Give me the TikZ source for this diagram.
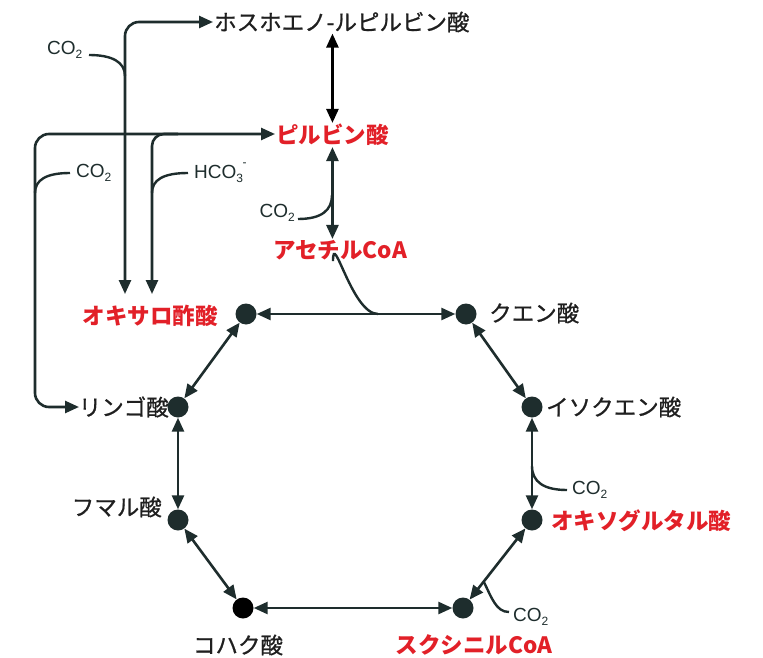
\documentclass[tikz,border=0pt]{standalone}
\usepackage{fontspec}
\setmainfont{Liberation Sans}
\newfontfamily\jp[FakeBold=0.8]{Noto Sans CJK JP}
\newfontfamily\jpb{Noto Sans CJK JP}
\usetikzlibrary{arrows.meta,calc}
\definecolor{ink}{RGB}{30,45,45}
\definecolor{hred}{RGB}{226,32,40}
\newcommand\cotwo{CO\raisebox{-0.45ex}{\fontsize{12}{12}\selectfont 2}}
\newcommand\hcothree{HCO\raisebox{-0.45ex}{\fontsize{12}{12}\selectfont 3}\kern-0.5pt\raisebox{1.1ex}{\fontsize{12}{12}\selectfont -}}
\begin{document}
\begin{tikzpicture}[x=1pt,y=-1pt,
  >={Triangle[length=14pt,width=12pt]},
  lab/.style={font={\jp\fontsize{22.5}{22.5}\selectfont}, text=black!88, inner sep=1pt},
  key/.style={font={\jpb\bfseries\fontsize{22.5}{22.5}\selectfont}, text=hred, inner sep=1pt},
  dot/.style={circle, fill=ink, minimum size=21pt, inner sep=0pt},
  con/.style={draw=ink, line width=2.6pt},
  side/.style={draw=ink, line width=2.4pt},
  small/.style={font={\fontsize{19}{19}\selectfont}, text=ink, inner sep=0pt}]
\useasboundingbox (0,0) rectangle (763,658);
\fill[white] (0,0) rectangle (763,658);

% labels
\node[lab, anchor=west] (pep) at (213,22) {ホスホエノ-ルピルビン酸};
\node[key, anchor=west] (pyr) at (275,135) {ピルビン酸};
\node[key] (acoa) at (340,250) {アセチルCoA};
\node[key, anchor=east] (oaa) at (219,316) {オキサロ酢酸};
\node[lab, anchor=west] (cit) at (488,313) {クエン酸};
\node[lab, anchor=west] (icit) at (545,407) {イソクエン酸};
\node[key, anchor=west] (akg) at (550,521) {オキソグルタル酸};
\node[key] (sca) at (474,645) {スクシニルCoA};
\node[lab] (suc) at (238,645) {コハク酸};
\node[lab, anchor=east] (fum) at (163,507) {フマル酸};
\node[lab, anchor=east] (mal) at (170,407) {リンゴ酸};

% dots
\node[dot] (dOAA) at (246,314) {};
\node[dot] (dCIT) at (466,314) {};
\node[dot] (dICIT) at (532,407) {};
\node[dot] (dAKG) at (532,520) {};
\node[dot] (dSCA) at (463,608) {};
\node[dot, fill=black] (dSUC) at (243,608) {};
\node[dot] (dFUM) at (178,520) {};
\node[dot] (dMAL) at (178,407) {};

% ring
\draw[con,<->] (dOAA) -- (dCIT);
\draw[con,<->] (dCIT) -- (dICIT);
\draw[con,<->] (dICIT) -- (dAKG);
\draw[con,<->] (dAKG) -- (dSCA);
\draw[con,<->] (dSCA) -- (dSUC);
\draw[con,<->] (dSUC) -- (dFUM);
\draw[con,<->] (dFUM) -- (dMAL);
\draw[con,<->] (dMAL) -- (dOAA);

% pyruvate column
\draw[con,<->,draw=black] (pyr.north |- pep.south) -- (pyr.north);
\draw[con,<->] (pyr.south) -- (pyr.south |- acoa.north);

% acetyl-CoA joins ring
\coordinate (join) at (378,314);
\draw[side] ([xshift=-7pt]acoa.south) .. controls ([xshift=-7pt,yshift=32pt]acoa.south) and (352,314) .. (join);

% left connectors
\coordinate (oaaA) at (125,294);
\coordinate (oaaB) at (152,294);
\coordinate (malIn) at (79,407);
\coordinate (br) at (178,134);
\draw[con,<->,rounded corners=14pt] (oaaA) -- (125,22) -- (pep.west);
\draw[con,<->,rounded corners=14pt] (malIn) -- (35,407) -- (35,134) -- (pyr.west |- br);
\draw[con,->,rounded corners=12pt] (br) -- (152,134) -- (oaaB);

% CO2 / HCO3- side branches
\node[small, anchor=west] (c1) at (47,50) {\cotwo};
\draw[side] (89,55) .. controls (112,55) and (125,62) .. (125,76);

\node[small, anchor=west] (c2) at (76,173) {\cotwo};
\draw[side] (35,193) .. controls (35,180) and (46,173) .. (70,173);

\node[small, anchor=west] (h3) at (194,173) {\hcothree};
\draw[side] (152,193) .. controls (152,180) and (163,173) .. (188,173);

\node[small, anchor=east] (c3) at (295,213) {\cotwo};
\draw[side] (298,219) .. controls (322,219) and (332,210) .. (332,195);

\node[small, anchor=west] (c4) at (572,490) {\cotwo};
\draw[side] (532,466) .. controls (532,482) and (544,490) .. (567,490);

\coordinate (onl) at ($(dAKG)!0.7!(dSCA)$);
\node[small, anchor=west] (c5) at (513,617) {\cotwo};
\draw[side] (onl) .. controls ($(onl)+(8,16)$) and (496,612) .. (509,612);
\end{tikzpicture}
\end{document}
